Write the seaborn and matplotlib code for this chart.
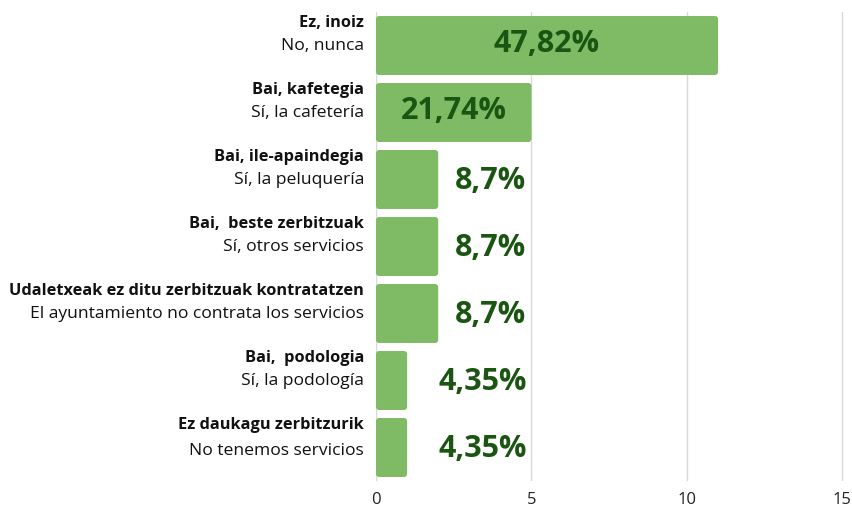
import matplotlib
matplotlib.use("Agg")
import matplotlib.pyplot as plt
import matplotlib.transforms as mtransforms
from matplotlib.patches import FancyBboxPatch
import seaborn as sns
import pandas as pd

labels_eu = ["Ez, inoiz", "Bai, kafetegia", "Bai, ile-apaindegia", "Bai,  beste zerbitzuak",
             "Udaletxeak ez ditu zerbitzuak kontratatzen", "Bai,  podologia", "Ez daukagu zerbitzurik"]
labels_es = ["No, nunca", "Sí, la cafetería", "Sí, la peluquería", "Sí, otros servicios",
             "El ayuntamiento no contrata los servicios", "Sí, la podología", "No tenemos servicios"]
counts = [11, 5, 2, 2, 2, 1, 1]
pct_labels = ["47,82%", "21,74%", "8,7%", "8,7%", "8,7%", "4,35%", "4,35%"]
xticks = [0, 5, 10, 15]

sns.set_theme(style="white")
plt.rcParams['font.family'] = ['Open Sans', 'DejaVu Sans']

df = pd.DataFrame({"cat": labels_eu, "n": counts})

fig = plt.figure(figsize=(8.53, 5.09), dpi=100)
ax = fig.add_axes([376/853, 1-481/509, (844-376)/853, (481-12)/509])

bar_color = "#7fba65"
sns.barplot(data=df, x="n", y="cat", ax=ax, color=bar_color, width=0.88, saturation=1, orient="h")

rects = list(ax.patches)
for r in rects:
    x, y, w, h = r.get_x(), r.get_y(), r.get_width(), r.get_height()
    r.remove()
    fb = FancyBboxPatch((x, y), w, h, boxstyle="round,pad=0,rounding_size=0.1",
                        mutation_aspect=0.466, facecolor=bar_color, edgecolor="none", zorder=3)
    ax.add_patch(fb)

ax.set_xlim(0, 15.05)
ax.set_ylim(len(counts) - 0.5, -0.5)
ax.set_xticks(xticks)
ax.set_xticklabels([str(t) for t in xticks], fontsize=12, color="#222222")
ax.tick_params(axis="x", length=0, pad=8)
ax.set_yticks([])
ax.set_xlabel("")
ax.set_ylabel("")
for s in ax.spines.values():
    s.set_visible(False)
ax.grid(axis="x", color="#d9d9d9", linewidth=1, zorder=0)
ax.set_axisbelow(True)

val_color = "#1b5512"
for i, (c, lab) in enumerate(zip(counts, pct_labels)):
    if c >= 4:
        ax.text(c / 2, i - 0.02, lab, ha="center", va="center", fontsize=22, fontweight="bold",
                color=val_color, zorder=5)
    else:
        ax.text(4.84, i + 0.02, lab, ha="right", va="center", fontsize=22, fontweight="bold",
                color=val_color, zorder=5)

trans = mtransforms.blended_transform_factory(ax.transAxes, ax.transData)
off = mtransforms.offset_copy(trans, fig=fig, x=-12, y=0, units="dots")
n = len(labels_eu)
for i, (eu, es) in enumerate(zip(labels_eu, labels_es)):
    ax.text(0, i - 0.33, eu, transform=off, ha="right", va="center", fontsize=11.8,
            fontweight="bold", color="#111111")
    ax.text(0, i + (0.05 if i == n - 1 else 0.0), es, transform=off, ha="right", va="center",
            fontsize=12.6, color="#111111")

fig.savefig("out.png", dpi=100)
